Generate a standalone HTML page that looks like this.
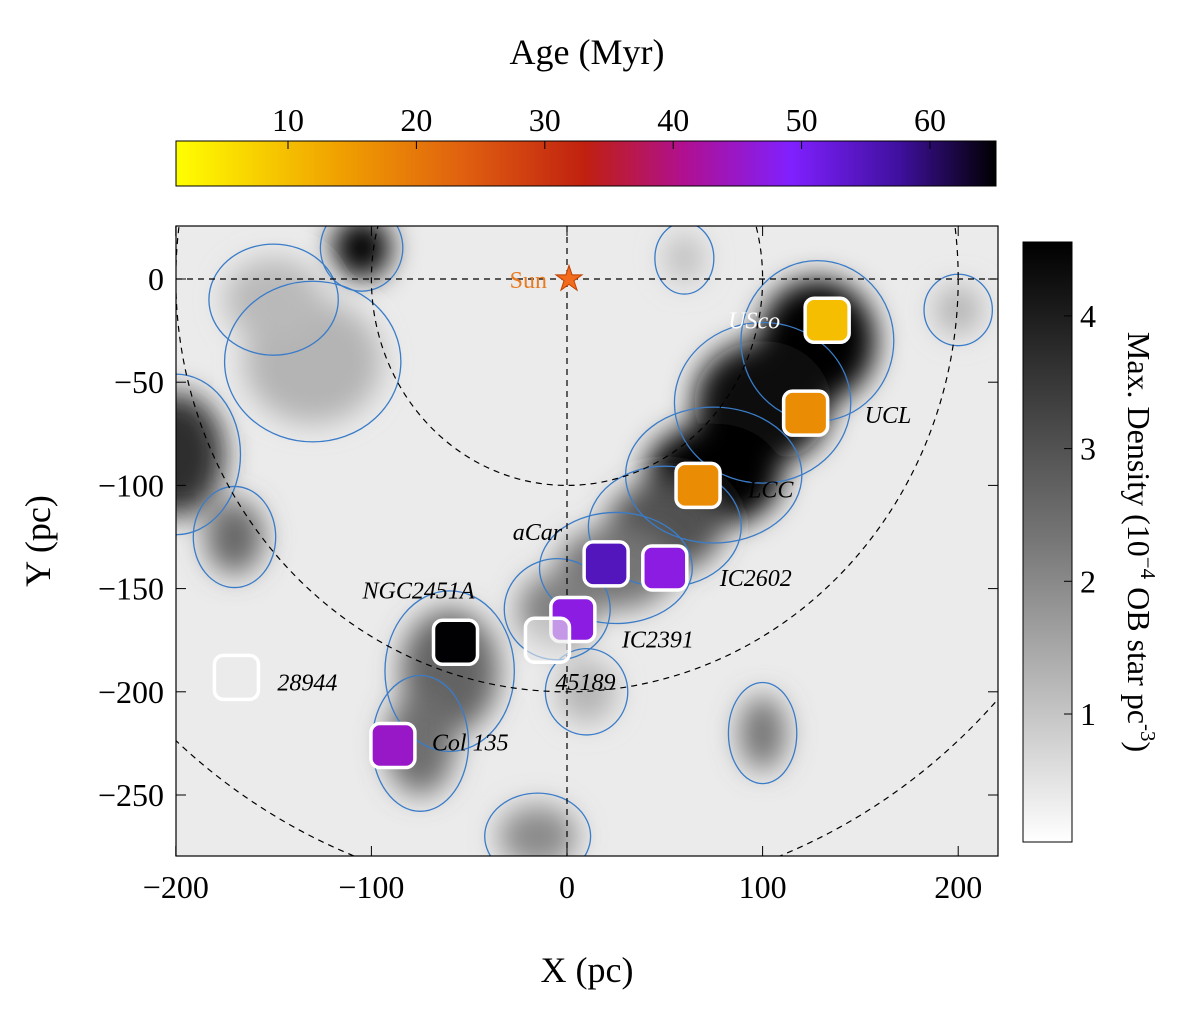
<!DOCTYPE html>
<html><head><meta charset="utf-8"><style>
body{margin:0;background:#fff;}
svg text{font-family:"Liberation Serif",serif;}
</style></head><body>
<svg id="c" width="1200" height="1006" viewBox="0 0 1200 1006" xmlns="http://www.w3.org/2000/svg">
<defs>
<linearGradient id="ageGrad" x1="0" x2="1" y1="0" y2="0">
<stop offset="0" stop-color="#ffff00"/><stop offset="0.2" stop-color="#f0a000"/><stop offset="0.35" stop-color="#e06010"/><stop offset="0.5" stop-color="#c02010"/><stop offset="0.62" stop-color="#b01090"/><stop offset="0.75" stop-color="#8020ff"/><stop offset="0.88" stop-color="#4010a0"/><stop offset="1" stop-color="#000"/>
</linearGradient>
<linearGradient id="denGrad" x1="0" x2="0" y1="0" y2="1">
<stop offset="0" stop-color="#000"/><stop offset="0.5" stop-color="#777"/><stop offset="1" stop-color="#fff"/>
</linearGradient>
<filter id="blur" x="-50%" y="-50%" width="200%" height="200%"><feGaussianBlur stdDeviation="14"/></filter>
<clipPath id="plotClip"><rect x="176" y="226" width="822" height="630"/></clipPath>
</defs>
<g id="plot" clip-path="url(#plotClip)"></g>
<rect x="176" y="226" width="822" height="630" fill="none" stroke="#000" stroke-width="1.2"/>
<g id="axes"></g>
<text x="587" y="64" font-size="36" text-anchor="middle">Age (Myr)</text>
<rect x="176" y="141" width="820" height="45" fill="url(#ageGrad)" stroke="#000"/>
<g id="ageTicks"></g>
<rect x="1023" y="242" width="49" height="600" fill="url(#denGrad)" stroke="#000"/>
<g id="denTicks"></g>
<text transform="translate(1128,542) rotate(90)" font-size="32" text-anchor="middle">Max. Density (10<tspan dy="-13" font-size="21">−4</tspan><tspan dy="13"> OB star pc</tspan><tspan dy="-13" font-size="21">-3</tspan><tspan dy="13">)</tspan></text>
<text x="587" y="982" font-size="36" text-anchor="middle">X (pc)</text>
<text transform="translate(50,541) rotate(-90)" font-size="36" text-anchor="middle">Y (pc)</text>
</svg>
<script>
const xTicks=[-200,-100,0,100,200];
const yTicks=[0,-50,-100,-150,-200,-250];
const ageTicks=[10,20,30,40,50,60];
const denTicks=[1,2,3,4];
const clusterNames=["USco","UCL","LCC","aCar","IC2602","IC2391","NGC2451A","45189","28944","Col 135"];
const clusterX=[133,122,67,20,50,3,-57,-10,-169,-89];
const clusterY=[-20,-65,-100,-138,-140,-165,-176,-175,-193,-226];
const clusterAge=[10,17,17,55,47,47,65,null,null,45];
const labelDX=[-47,59,50,-44,55,49,-37,38,41,39];
const labelDY=[0,2,4,-32,10,20,-52,42,5,-3];
const blobX=[128,100,75,50,25,-5,-60,-75,-105,-200,-170,100,-130,-150,10,-15,60,200];
const blobY=[-30,-60,-95,-120,-140,-160,-190,-225,15,-85,-125,-220,-40,-10,-200,-270,10,-15];
const blobRX=[30,35,35,30,30,20,25,18,15,25,15,12,35,25,15,20,10,12];
const blobRY=[30,30,25,22,20,18,30,25,15,30,18,18,30,20,15,15,12,12];
const blobLevel=[4.6,4.2,4.5,3.0,2.4,2.2,2.7,2.5,4.6,3.6,2.6,2.4,1.3,1.2,1.3,2.0,1.1,1.3];

const sx=v=>567+v*1.956, sy=v=>279-v*2.064;
const ageX=a=>288+(a-10)*12.84, denY=d=>714-(d-1)*132.7;
const NS="http://www.w3.org/2000/svg";
function mk(t,a,p){const e=document.createElementNS(NS,t);for(const k in a)e.setAttribute(k,a[k]);p.appendChild(e);return e;}
function gray(d){const v=Math.round(Math.max(0,Math.min(255,255-(d/4.4)*255)));return `rgb(${v},${v},${v})`;}
function ageColor(a){const stops=[[0,[255,255,0]],[0.2,[240,160,0]],[0.35,[224,96,16]],[0.5,[192,32,16]],[0.62,[176,16,144]],[0.75,[128,32,255]],[0.88,[64,16,160]],[1,[0,0,0]]];
 const t=(ageX(a)-176)/820;for(let i=1;i<stops.length;i++){if(t<=stops[i][0]){const[a0,c0]=stops[i-1],[a1,c1]=stops[i];const f=(t-a0)/(a1-a0);return `rgb(${c0.map((c,j)=>Math.round(c+(c1[j]-c)*f)).join(',')})`;}}return '#000';}
const plot=document.getElementById('plot');
const bg=mk('rect',{x:176,y:226,width:822,height:630,fill:'#ebebeb'},plot);


const blobs=mk('g',{filter:'url(#blur)'},plot);


for(let i=0;i<blobX.length;i++){
 const b=mk('ellipse',{cx:sx(blobX[i]),cy:sy(blobY[i]),rx:blobRX[i]*1.956,ry:blobRY[i]*2.064,fill:gray(blobLevel[i])},blobs);
 
 
}
const contours=mk('g',{fill:'none',stroke:'#3a7cc8','stroke-width':1.3},plot);


for(let i=0;i<blobX.length;i++){
 const c=mk('ellipse',{cx:sx(blobX[i]),cy:sy(blobY[i]),rx:blobRX[i]*1.956*1.2+6,ry:blobRY[i]*2.064*1.2+6},contours);
 
 
}
const guides=mk('g',{fill:'none',stroke:'#000','stroke-width':1.2,'stroke-dasharray':'6,5'},plot);


[100,200,300].forEach(r=>{const e=mk('ellipse',{cx:sx(0),cy:sy(0),rx:r*1.956,ry:r*2.064},guides);});
mk('line',{x1:176,x2:998,y1:sy(0),y2:sy(0)},guides);
mk('line',{x1:sx(0),x2:sx(0),y1:226,y2:856},guides);
const sun=mk('text',{x:sx(0)+2,y:sy(0)+11,'font-size':34,fill:'#f26a1b',stroke:'#c04000','stroke-width':1,'text-anchor':'middle'},plot);
sun.textContent='★';


const sl=mk('text',{x:sx(0)-20,y:sy(0)+9,'font-size':24,fill:'#e87a20','text-anchor':'end'},plot);
sl.textContent='Sun';


for(let i=0;i<clusterNames.length;i++){
 const x=sx(clusterX[i]),y=sy(clusterY[i]);
 const col=clusterAge[i]==null?'rgba(235,235,235,0.6)':ageColor(clusterAge[i]);
 const r=mk('rect',{x:x-22,y:y-22,width:44,height:44,rx:9,fill:col,stroke:'#fff','stroke-width':3.5},plot);
 
 
 let anchor=labelDX[i]>0?'start':'end';
 if(i==6||i==7)anchor='middle';
 const t=mk('text',{x:x+labelDX[i],y:y+labelDY[i]+8,'font-size':24,'font-style':'italic',fill:i==0?'#fff':'#000','text-anchor':anchor},plot);
 t.textContent=clusterNames[i];
 
 
}
const axes=document.getElementById('axes');
xTicks.forEach(v=>{const x=sx(v);mk('line',{x1:x,x2:x,y1:856,y2:846,stroke:'#000'},axes);mk('line',{x1:x,x2:x,y1:226,y2:236,stroke:'#000'},axes);
 const t=mk('text',{x:x,y:898,'font-size':32,'text-anchor':'middle'},axes);t.textContent=v<0?'−'+(-v):v;
 });
yTicks.forEach(v=>{const y=sy(v);mk('line',{x1:176,x2:186,y1:y,y2:y,stroke:'#000'},axes);mk('line',{x1:998,x2:988,y1:y,y2:y,stroke:'#000'},axes);
 const t=mk('text',{x:164,y:y+11,'font-size':32,'text-anchor':'end'},axes);t.textContent=v<0?'−'+(-v):v;
 });
const at=document.getElementById('ageTicks');
ageTicks.forEach(v=>{const x=ageX(v);mk('line',{x1:x,x2:x,y1:141,y2:149,stroke:'#000'},at);
 const t=mk('text',{x:x,y:131,'font-size':32,'text-anchor':'middle'},at);t.textContent=v;
 });
const dt=document.getElementById('denTicks');
denTicks.forEach(v=>{const y=denY(v);mk('line',{x1:1072,x2:1064,y1:y,y2:y,stroke:'#000'},dt);
 const t=mk('text',{x:1080,y:y+11,'font-size':32},dt);t.textContent=v;
 });
</script>
</body></html>
